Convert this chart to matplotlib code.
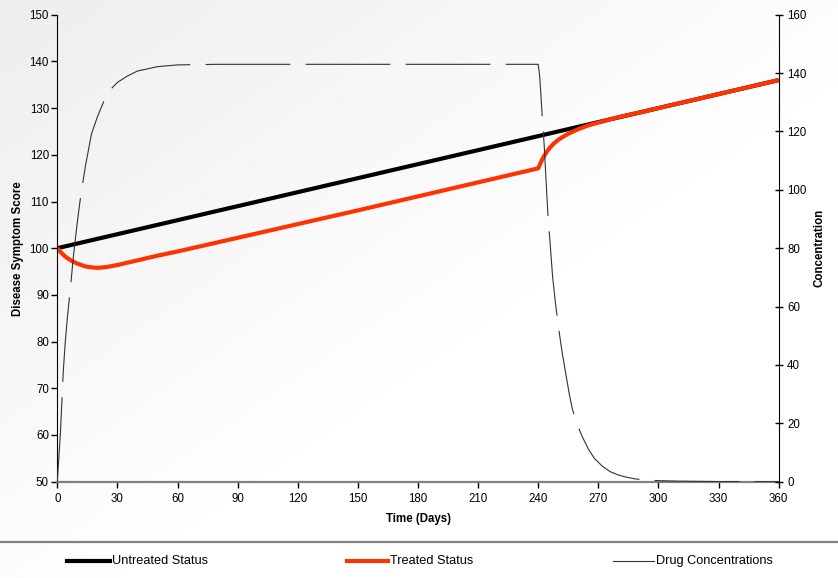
import numpy as np
import matplotlib
matplotlib.use('Agg')
from matplotlib import pyplot as plt
from matplotlib.lines import Line2D

plt.rcParams['font.family'] = ['Liberation Sans', 'DejaVu Sans']
plt.rcParams['lines.scale_dashes'] = False

# data
days_untreated = [0, 360]
score_untreated = [100, 136]

days_treated = [0, 1, 2, 3, 4, 6, 8, 10, 12, 14, 16, 18, 20, 22, 25, 30, 35, 40, 50, 60,
                100, 150, 200, 240,
                241, 242, 243, 244.5, 246, 248, 250, 252.5, 255, 257.5, 260, 265, 270, 275,
                280, 285, 290, 300, 360]
score_treated = [100, 99.5, 99.0, 98.6, 98.2, 97.6, 97.1, 96.7, 96.4, 96.1, 95.95, 95.85, 95.8,
                 95.85, 96.0, 96.4, 96.9, 97.4, 98.4, 99.3,
                 103.2, 108.1, 113.1, 117.1,
                 118.1, 119.0, 119.8, 120.8, 121.6, 122.5, 123.2, 123.9, 124.5, 125.0, 125.5,
                 126.3, 126.9, 127.5, 128.05, 128.55, 129.0, 130.0, 136.0]

days_drug = [0, 0.75, 1.5, 2.25, 3, 4, 5, 6.5, 8, 10, 11.7, 14, 17, 20, 23, 26, 30, 35, 40,
             50, 60, 80, 240,
             240.7, 241.3, 242, 243, 244, 244.7, 246, 247.2, 248.8, 250.5, 252, 254, 255.5,
             257, 259.5, 262, 265, 268, 272, 276, 280, 283, 288, 293, 300, 310, 330, 360]
conc_drug = [0, 8, 16, 27, 38, 48, 56, 66, 77, 89, 98, 108, 119, 125, 130, 134, 136.8, 139,
             140.7, 142.2, 142.8, 143, 143,
             139, 133, 125, 115, 102, 93, 81, 70, 60, 51, 44, 36, 30,
             25, 19.5, 15.4, 11.2, 8, 5.3, 3.4, 2.3, 1.7, 1.0, 0.6, 0.35, 0.2, 0.05, 0]

W, H = 838, 578
fig = plt.figure(figsize=(W / 100, H / 100), dpi=100)

# soft gradient background
bg = fig.add_axes([0, 0, 1, 1], zorder=-10)
xx, yy = np.meshgrid(np.linspace(0, 1, 200), np.linspace(0, 1, 200))
shade = 0.93 + 0.07 * np.clip((xx + yy) / 1.2, 0, 1)
bg.imshow(shade, cmap='gray', vmin=0, vmax=1, extent=[0, 1, 0, 1], aspect='auto', origin='upper')
bg.axis('off')

ax = fig.add_axes([57.3 / W, 1 - 481.7 / H, (778.7 - 57.3) / W, (481.7 - 14.7) / H])
ax.patch.set_alpha(0)

ax.plot(days_untreated, score_untreated, color='black', lw=3, label='Untreated Status', solid_capstyle='butt')
ax.plot(days_treated, score_treated, color='#ff3300', lw=3, label='Treated Status', solid_capstyle='butt')

ax.set_xlim(0, 360)
ax.set_ylim(50, 150)
ax.set_xticks(range(0, 361, 30))
ax.set_yticks(range(50, 151, 10))
ax.set_xlabel('Time (Days)', fontsize=8.3, fontweight='bold', labelpad=6)
ax.set_ylabel('Disease Symptom Score', fontsize=8.3, fontweight='bold', labelpad=4)
ax.tick_params(axis='both', labelsize=8.3, length=4, width=1, direction='out', pad=2)
ax.tick_params(axis='x', pad=4)
ax.spines['top'].set_visible(False)
ax.spines['right'].set_visible(False)
ax.spines['bottom'].set_color('#808080')
ax.spines['bottom'].set_linewidth(1.6)

ax2 = ax.twinx()
ax2.plot(days_drug, conc_drug, color='#333333', lw=0.8, dashes=(61, 11), label='Drug Concentrations')
ax2.set_ylim(0, 160)
ax2.set_yticks(range(0, 161, 20))
ax2.set_ylabel('Concentration', fontsize=8.3, fontweight='bold', labelpad=5)
ax2.tick_params(axis='y', labelsize=8.3, length=6, width=1, direction='inout', pad=3)
for s in ['top', 'left', 'bottom']:
    ax2.spines[s].set_visible(False)

# separator and legend below the plot
fig.add_artist(Line2D([0, 1], [1 - 541.5 / H] * 2, color='#808080', lw=1.6, transform=fig.transFigure))
legend_items = [('Untreated Status', 'black', 3, 67, 110),
                ('Treated Status', '#ff3300', 3, 347, 388),
                ('Drug Concentrations', '#333333', 0.8, 613, 654)]
ly = 1 - 561 / H
for label, color, lw, x0, x1 in legend_items:
    fig.add_artist(Line2D([x0 / W, x1 / W], [ly, ly], color=color, lw=lw, transform=fig.transFigure))
    fig.text((x1 + 2) / W, ly, label, fontsize=9.2, va='center', ha='left')

plt.savefig('out.png', dpi=100)
